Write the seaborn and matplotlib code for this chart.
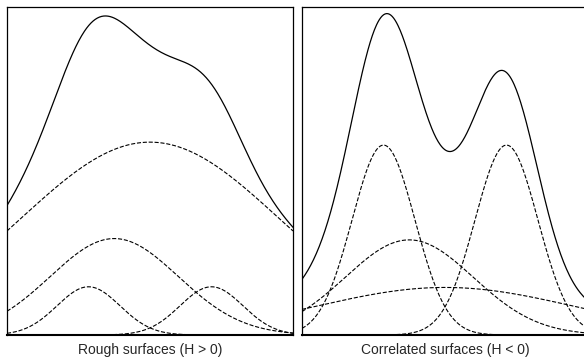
import numpy as np
import pandas as pd
import matplotlib
matplotlib.use("Agg")
import matplotlib.pyplot as plt
import seaborn as sns

sns.set_theme(style="white")
plt.rcParams['font.family'] = ['Liberation Sans', 'DejaVu Sans']

# gaussian components (position across panel, width, height)
centers = [0.5, 0.375, 0.285, 0.715]
widths = [0.45, 0.224, 0.11, 0.11]
amps_rough = [0.588, 0.294, 0.147, 0.147]
amps_corr = [0.145, 0.29, 0.579, 0.579]
titles = ["Rough surfaces (H > 0)", "Correlated surfaces (H < 0)"]

x = np.linspace(0, 1, 400)


def components(amps):
    '''
    returns a long dataframe with each component and the total
    '''
    rows = []
    total = np.zeros_like(x)
    for i, (c, w, a) in enumerate(zip(centers, widths, amps)):
        y = a * np.exp(-(x - c) ** 2 / (2 * w ** 2))
        total += y
        rows.append(pd.DataFrame({'x': x, 'y': y, 'curve': f'c{i}'}))
    return pd.concat(rows), total


fig = plt.figure(figsize=(5.84, 3.6), dpi=100)
boxes = [[7 / 584, 25 / 360, 286 / 584, 328 / 360],
         [302 / 584, 25 / 360, 286 / 584, 328 / 360]]

for box, amps, title in zip(boxes, [amps_rough, amps_corr], titles):
    ax = fig.add_axes(box)
    df, total = components(amps)
    for name, part in df.groupby('curve'):
        sns.lineplot(data=part, x='x', y='y', ax=ax, color='black',
                     linestyle='--', linewidth=0.8)
    sns.lineplot(x=x, y=total, ax=ax, color='black', linewidth=0.9)
    ax.set_xlim(0, 1)
    ax.set_ylim(0, 1)
    ax.set_xticks([])
    ax.set_yticks([])
    ax.set_ylabel('')
    ax.set_xlabel(title, fontsize=10, labelpad=5.5)
    for side in ['left', 'right', 'top']:
        ax.spines[side].set_color('black')
        ax.spines[side].set_linewidth(0.9)
    ax.spines['bottom'].set_color('black')
    ax.spines['bottom'].set_linewidth(1.5)

fig.savefig('out.png', dpi=100)
